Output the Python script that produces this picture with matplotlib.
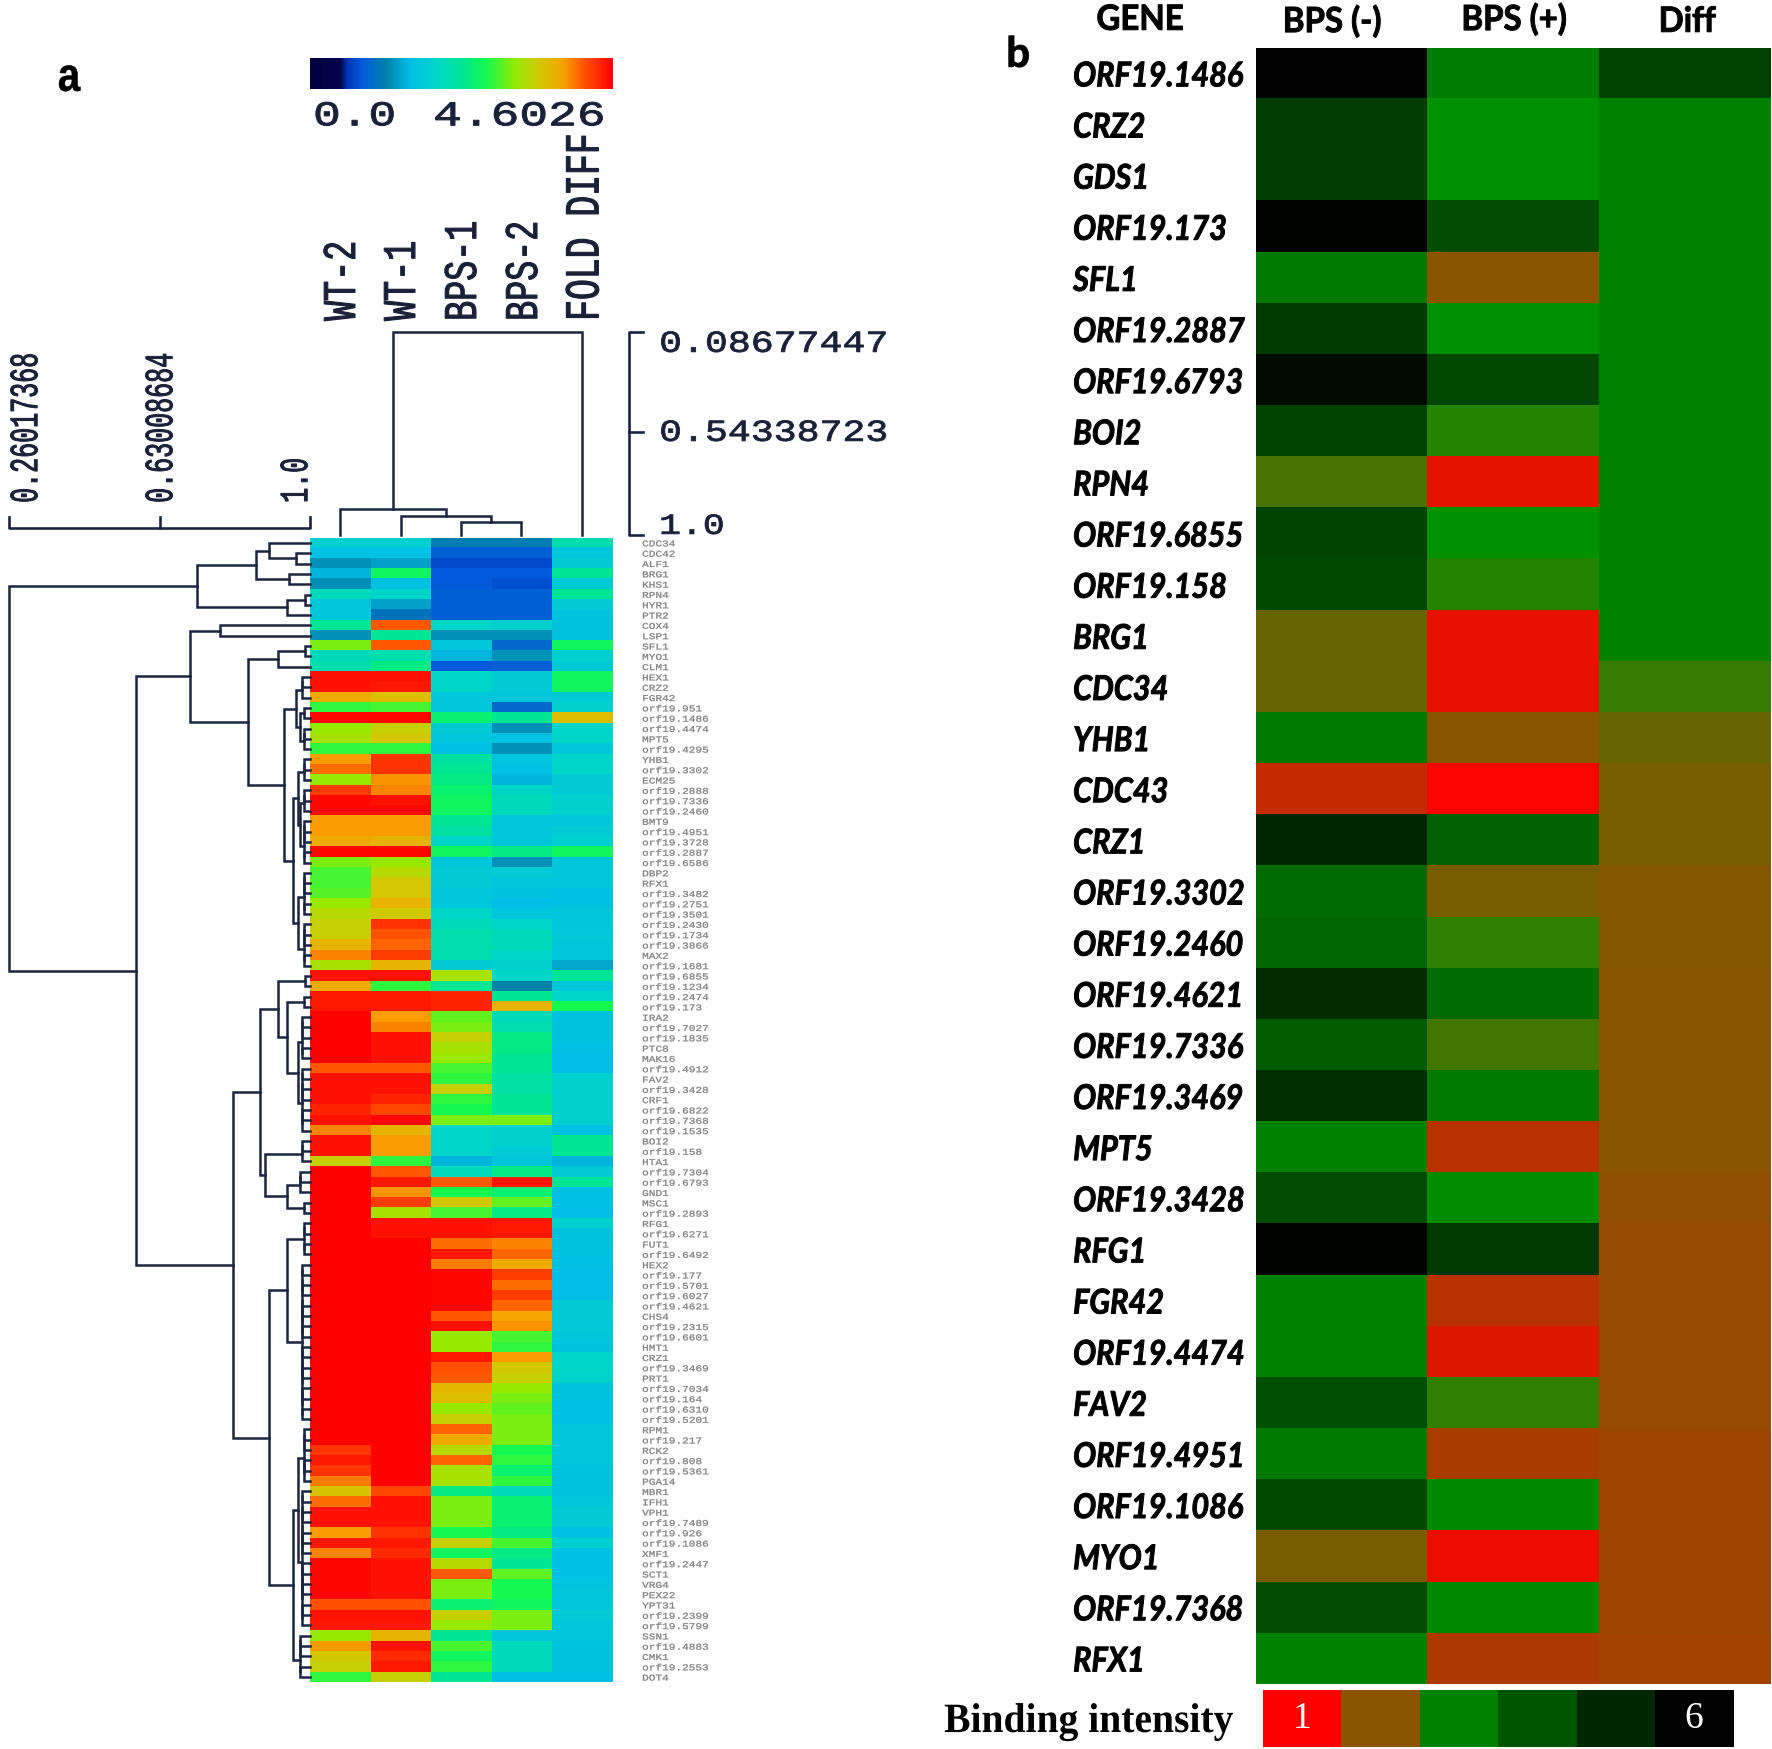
import numpy as np
import matplotlib
matplotlib.use('Agg')
import matplotlib.pyplot as plt
import matplotlib.patheffects as pe
from matplotlib.colors import LinearSegmentedColormap
from matplotlib.transforms import Affine2D

W, H = 1772, 1749

samples = ['WT-2', 'WT-1', 'BPS-1', 'BPS-2', 'FOLD DIFF']
row_genes = ['CDC34', 'CDC42', 'ALF1', 'BRG1', 'KHS1', 'RPN4', 'HYR1', 'PTR2', 'COX4', 'LSP1',
             'SFL1', 'MYO1', 'CLM1', 'HEX1', 'CRZ2', 'FGR42', 'orf19.951', 'orf19.1486', 'orf19.4474', 'MPT5',
             'orf19.4295', 'YHB1', 'orf19.3302', 'ECM25', 'orf19.2888', 'orf19.7336', 'orf19.2460', 'BMT9', 'orf19.4951', 'orf19.3728',
             'orf19.2887', 'orf19.6586', 'DBP2', 'RFX1', 'orf19.3482', 'orf19.2751', 'orf19.3501', 'orf19.2430', 'orf19.1734', 'orf19.3866',
             'MAX2', 'orf19.1681', 'orf19.6855', 'orf19.1234', 'orf19.2474', 'orf19.173', 'IRA2', 'orf19.7027', 'orf19.1835', 'PTC8',
             'MAK16', 'orf19.4912', 'FAV2', 'orf19.3428', 'CRF1', 'orf19.6822', 'orf19.7368', 'orf19.1535', 'BOI2', 'orf19.158',
             'HTA1', 'orf19.7304', 'orf19.6793', 'GND1', 'MSC1', 'orf19.2893', 'RFG1', 'orf19.6271', 'FUT1', 'orf19.6492',
             'HEX2', 'orf19.177', 'orf19.5701', 'orf19.6027', 'orf19.4621', 'CHS4', 'orf19.2315', 'orf19.6601', 'HMT1', 'CRZ1',
             'orf19.3469', 'PRT1', 'orf19.7034', 'orf19.164', 'orf19.6310', 'orf19.5201', 'RPM1', 'orf19.217', 'RCK2', 'orf19.808',
             'orf19.5361', 'PGA14', 'MBR1', 'IFH1', 'VPH1', 'orf19.7489', 'orf19.926', 'orf19.1086', 'XMF1', 'orf19.2447',
             'SCT1', 'VRG4', 'PEX22', 'YPT31', 'orf19.2399', 'orf19.5799', 'SSN1', 'orf19.4883', 'CMK1', 'orf19.2553',
             'DOT4']

wt2 = [.40, .34, .27, .32, .27, .44, .36, .36, .50, .27,
       .66, .44, .46, .98, .98, .82, .60, .99, .68, .70,
       .60, .84, .88, .68, .93, .99, .99, .84, .84, .82,
       .99, .66, .62, .62, .63, .68, .72, .74, .74, .80,
       .86, .70, .98, .82, .97, .97, 1, 1, 1, 1,
       1, .90, .98, .98, .98, .96, .98, .86, .98, .98,
       .74, 1, 1, 1, 1, 1, 1, 1, 1, 1,
       1, 1, 1, 1, 1, 1, 1, 1, 1, 1,
       1, 1, 1, 1, 1, 1, 1, 1, .94, .97,
       .94, .87, .77, .88, .98, .98, .84, .97, .86, .99,
       .99, .99, .99, .91, .98, .97, .68, .84, .76, .74, .60]
wt1 = [.40, .34, .29, .56, .34, .42, .29, .22, .90, .50,
       .90, .46, .52, .98, .97, .78, .62, .99, .74, .76,
       .60, .94, .94, .85, .86, .98, .99, .84, .84, .80,
       .99, .68, .72, .76, .76, .80, .75, .94, .91, .89,
       .93, .80, .98, .60, .97, .97, .84, .86, .98, .98,
       .98, .90, .98, .98, .96, .92, .99, .80, .84, .84,
       .60, .90, .97, .85, .93, .70, .98, .98, 1, 1,
       1, 1, 1, 1, 1, 1, 1, 1, 1, 1,
       1, 1, 1, 1, 1, 1, 1, 1, 1, 1,
       1, 1, .92, .98, .98, .98, .94, .97, .95, .98,
       .98, .98, .98, .91, .98, .97, .80, .98, .95, .97, .74]
bps1 = [.24, .18, .15, .17, .17, .18, .18, .18, .42, .27,
        .36, .32, .17, .42, .42, .36, .36, .54, .38, .36,
        .34, .48, .50, .52, .54, .56, .56, .50, .48, .42,
        .56, .36, .38, .38, .36, .36, .42, .44, .46, .46,
        .46, .38, .70, .50, .96, .96, .64, .66, .74, .70,
        .68, .62, .60, .74, .60, .58, .66, .42, .42, .42,
        .32, .44, .90, .58, .76, .62, .98, .98, .88, .97,
        .87, .99, .99, .99, .99, .90, .98, .68, .68, .97,
        .91, .90, .79, .78, .68, .74, .89, .82, .72, .89,
        .70, .70, .52, .66, .66, .66, .58, .74, .56, .72,
        .90, .66, .66, .54, .74, .68, .50, .62, .56, .60, .50]
bps2 = [.24, .18, .15, .17, .16, .18, .18, .18, .40, .27,
        .20, .27, .18, .38, .38, .36, .20, .50, .27, .34,
        .27, .35, .34, .32, .42, .44, .44, .36, .36, .36,
        .52, .27, .38, .36, .35, .33, .36, .42, .44, .44,
        .42, .40, .42, .25, .50, .80, .44, .46, .52, .52,
        .50, .50, .48, .48, .50, .50, .66, .40, .40, .38,
        .36, .52, .97, .54, .64, .52, .97, .97, .86, .89,
        .82, .93, .88, .93, .89, .83, .85, .62, .60, .84,
        .76, .74, .68, .66, .64, .66, .66, .66, .58, .60,
        .54, .60, .44, .54, .54, .54, .52, .62, .52, .50,
        .64, .58, .58, .56, .66, .66, .36, .44, .44, .44, .34]
fold_diff = [.46, .36, .38, .50, .38, .50, .38, .35, .35, .35,
             .56, .40, .38, .56, .56, .38, .40, .78, .42, .42,
             .36, .42, .42, .38, .38, .40, .40, .36, .38, .40,
             .56, .36, .36, .36, .34, .34, .36, .36, .37, .36,
             .36, .30, .50, .36, .42, .58, .35, .35, .35, .34,
             .33, .33, .40, .40, .40, .40, .40, .34, .50, .50,
             .32, .38, .50, .34, .34, .33, .40, .35, .35, .34,
             .34, .33, .33, .33, .38, .38, .37, .36, .35, .42,
             .42, .41, .35, .34, .34, .34, .36, .36, .36, .36,
             .35, .35, .35, .36, .38, .38, .34, .40, .34, .34,
             .34, .35, .36, .36, .38, .36, .36, .35, .35, .35, .34]

# panel b
binding_genes = ['ORF19.1486', 'CRZ2', 'GDS1', 'ORF19.173', 'SFL1', 'ORF19.2887', 'ORF19.6793', 'BOI2',
                 'RPN4', 'ORF19.6855', 'ORF19.158', 'BRG1', 'CDC34', 'YHB1', 'CDC43', 'CRZ1',
                 'ORF19.3302', 'ORF19.2460', 'ORF19.4621', 'ORF19.7336', 'ORF19.3469', 'MPT5', 'ORF19.3428', 'RFG1',
                 'FGR42', 'ORF19.4474', 'FAV2', 'ORF19.4951', 'ORF19.1086', 'MYO1', 'ORF19.7368', 'RFX1']
bps_minus = [6.0, 4.5, 4.5, 5.9, 3.2, 4.6, 5.7, 4.4, 2.35, 4.4, 4.3, 2.2, 2.2, 3.2, 1.5, 5.0,
             3.5, 3.6, 4.9, 3.8, 4.8, 3.0, 4.2, 5.9, 3.0, 3.0, 4.1, 3.2, 4.3, 2.1, 4.2, 3.0]
bps_plus = [3.1, 2.8, 2.8, 4.2, 2.0, 2.8, 4.3, 2.55, 1.25, 2.8, 2.55, 1.2, 1.2, 2.0, 1.05, 3.7,
            2.1, 2.5, 3.5, 2.4, 3.2, 1.6, 2.85, 4.6, 1.6, 1.3, 2.5, 1.75, 2.9, 1.15, 2.9, 1.7]
diff = [4.4, 3.0, 3.0, 3.0, 3.0, 3.0, 3.0, 3.0, 3.0, 3.0, 3.0, 3.0, 2.45, 2.2, 2.1, 2.1,
        2.05, 2.05, 2.0, 2.0, 2.0, 2.0, 1.95, 1.9, 1.9, 1.9, 1.9, 1.85, 1.85, 1.85, 1.85, 1.8]
intensity_levels = [1, 2, 3, 4, 5, 6]

heat_cmap = LinearSegmentedColormap.from_list('heat', [
    (0, '#00003c'), (.10, '#050550'), (.12, '#0032b4'), (.17, '#005adc'), (.25, '#0082aa'),
    (.33, '#00bee6'), (.42, '#00d7c8'), (.50, '#00e696'), (.58, '#14fa50'), (.68, '#96eb00'),
    (.75, '#cdcd00'), (.84, '#faa000'), (.90, '#ff5a00'), (1, '#ff0000')])
bind_cmap = LinearSegmentedColormap.from_list('binding', [
    (0, '#ff0000'), (.2, '#8a5400'), (.35, '#009600'), (.4, '#008200'), (.6, '#005500'),
    (.8, '#002800'), (1, '#000000')])


class StretchX(pe.AbstractPathEffect):
    # the source image was squeezed, so its text is wider than any installed font
    def __init__(self, sx, cx, stroke=0.0):
        super().__init__()
        self.sx = sx
        self.cx = cx
        self.stroke = stroke

    def draw_path(self, renderer, gc, tpath, affine, rgbFace=None):
        t = Affine2D().translate(-self.cx, 0).scale(self.sx, 1).translate(self.cx, 0)
        gc0 = renderer.new_gc()
        gc0.copy_properties(gc)
        gc0.set_linewidth(self.stroke)
        gc0.set_foreground(rgbFace)
        renderer.draw_path(gc0, tpath, affine + t, rgbFace)
        gc0.restore()


def pixel_axes(x0, y0, x1, y1):
    ax = fig.add_axes([x0 / W, 1 - y1 / H, (x1 - x0) / W, (y1 - y0) / H])
    ax.set_axis_off()
    return ax


def wide(x, y, s, sx=1.0, stroke=0.0, **kw):
    t = page.text(x, y, s, **kw)
    t.set_path_effects([StretchX(sx, x, stroke)])
    return t


def comb(first, last, d):
    if first == last:
        return first
    mid = (first + last) // 2
    return (d, comb(first, mid, d), comb(mid + 1, last, d))


# (height, upper child, lower child), leaves are row numbers
row_tree = (0.26,
            (0.721,
             (0.867, (0.898, 0, (0.9656, 1, 2)), (0.948, 3, 4)),
             (0.943, (0.9877, 5, 6), 7)),
            (0.572,
             (0.706,
              (0.779, 8, 9),
              (0.848,
               (0.921, (0.9877, 10, 11), 12),
               (0.936,
                (0.9656, comb(13, 15, .98), (0.975, comb(16, 17, .985), comb(18, 20, .985))),
                (0.958,
                 (0.97, comb(21, 23, .985), (0.975, comb(24, 26, .985), comb(27, 31, .985))),
                 (0.97, comb(32, 36, .985), comb(37, 41, .985)))))),
             (0.811,
              (0.876,
               (0.921, comb(42, 43, .9877),
                (0.943, comb(44, 45, .985), (0.97, comb(46, 50, .98), comb(51, 57, .98)))),
               (0.889, comb(58, 60, .98), (0.943, comb(61, 63, .975), comb(64, 65, .985)))),
              (0.898,
               (0.943, comb(66, 69, .985), comb(70, 85, .98)),
               (0.958,
                (0.97, comb(86, 91, .985), comb(92, 105, .98)),
                comb(106, 110, .975))))))
col_tree = (0.0868, (0.883, 0, (0.9145, 1, (0.9415, 2, 3))), 4)
LINE = '#1c2440'
TEXT = '#1a2038'


def draw_row(ax, node):
    if isinstance(node, int):
        return 1.0, node
    d, a, b = node
    da, ya = draw_row(ax, a)
    db, yb = draw_row(ax, b)
    ax.plot([da, d, d, db], [ya, ya, yb, yb], color=LINE, lw=1.8, solid_joinstyle='miter')
    return d, (ya + yb) / 2


def draw_col(ax, node):
    if isinstance(node, int):
        return node, 1.0
    d, a, b = node
    xa, da = draw_col(ax, a)
    xb, db = draw_col(ax, b)
    ax.plot([xa, xa, xb, xb], [da, d, d, db], color=LINE, lw=1.8, solid_joinstyle='miter')
    return (xa + xb) / 2, d


fig = plt.figure(figsize=((W + 0.2) / 100, (H + 0.2) / 100), dpi=100, facecolor='white')
page = pixel_axes(0, 0, W, H)
page.set_xlim(0, W)
page.set_ylim(H, 0)
page.set_zorder(5)

# panel a: heatmap, colour bar, dendrograms
ax_heat = pixel_axes(310, 538, 612, 1682)
matrix = np.array([wt2, wt1, bps1, bps2, fold_diff]).T
ax_heat.imshow(matrix, cmap=heat_cmap, vmin=0, vmax=1, aspect='auto', interpolation='nearest')

ax_bar = pixel_axes(310, 58, 612, 89)
ax_bar.imshow(np.linspace(0, 1, 256)[None, :], cmap=heat_cmap, aspect='auto')

ax_rows = pixel_axes(9, 538, 310, 1682)
ax_rows.set_xlim(0.26, 1.0)
ax_rows.set_ylim(len(row_genes) - 0.5, -0.5)
draw_row(ax_rows, row_tree)

ax_cols = pixel_axes(310, 332, 612, 538)
ax_cols.set_xlim(-0.5, 4.5)
ax_cols.set_ylim(1.0137, 0.0868)
draw_col(ax_cols, col_tree)
for ax in (ax_rows, ax_cols):
    for ln in ax.lines:
        ln.set_clip_on(False)

# scale brackets
page.plot([9, 9, 310, 310], [517, 528, 528, 517], color=LINE, lw=1.9)
page.plot([160, 160], [517, 528], color=LINE, lw=1.9)
page.plot([643, 629, 629, 643], [332, 332, 535, 535], color=LINE, lw=1.9)
page.plot([629, 643], [432, 432], color=LINE, lw=1.9)

MONO = 'Liberation Mono'
wide(313, 116, '0.0', 1.33, 0.7, family=MONO, fontsize=25, ha='left', va='center', color=TEXT)
wide(433, 116, '4.6026', 1.38, 0.7, family=MONO, fontsize=25, ha='left', va='center', color=TEXT)
wide(659, 344, '0.08677447', 1.25, 0.6, family=MONO, fontsize=22, ha='left', va='center', color=TEXT)
wide(659, 433, '0.54338723', 1.25, 0.6, family=MONO, fontsize=22, ha='left', va='center', color=TEXT)
wide(659, 526, '1.0', 1.25, 0.6, family=MONO, fontsize=21, ha='left', va='center', color=TEXT)
for x, s in zip([26, 161, 296], ['0.26017368', '0.63008684', '1.0']):
    wide(x, 503, s, 1.6, 0.7, family=MONO, fontsize=18, rotation=90, ha='center', va='bottom', color=TEXT)
for x, s, fs in zip([343, 403, 464, 525, 585], samples, [24, 24, 24, 24, 25]):
    wide(x, 321, s, 1.4, 0.8, family=MONO, fontsize=fs, rotation=90, ha='center', va='bottom', color=TEXT)
for i, g in enumerate(row_genes):
    wide(642, 544 + 10.31 * i, g, 1.25, 0.2, family=MONO, fontsize=6.4, ha='left', va='center', color='#808080')
wide(69, 79, 'a', 0.85, 0.4, family='Liberation Sans', fontweight='bold', fontsize=34, ha='center', va='center', color='black')

# panel b
ax_bind = pixel_axes(1256, 48, 1770, 1684)
bind = np.array([bps_minus, bps_plus, diff]).T
ax_bind.imshow(bind, cmap=bind_cmap, vmin=1, vmax=6, aspect='auto', interpolation='nearest')
LATO = 'Lato'
row_h = (1684 - 48) / len(binding_genes)
for i, g in enumerate(binding_genes):
    wide(1073, 48 + row_h * (i + 0.5) + 3, g, 0.9, 0.7, family=LATO, fontweight='bold', style='italic',
         fontsize=24.5, ha='left', va='center', color='black')
for x, y, s in zip([1140, 1332, 1514, 1687], [20, 22, 20, 22], ['GENE', 'BPS (-)', 'BPS (+)', 'Diff']):
    wide(x, y, s, 0.95, 0.7, family=LATO, fontweight='bold', fontsize=25, ha='center', va='center', color='black')
wide(1018, 55, 'b', 1.0, 0.7, family=LATO, fontweight='bold', fontsize=30, ha='center', va='center', color='black')

ax_key = pixel_axes(1263, 1690, 1733, 1747)
ax_key.imshow(np.array(intensity_levels)[None, :], cmap=bind_cmap, vmin=1, vmax=6, aspect='auto',
              interpolation='nearest')
ax_key.text(0, 0, str(intensity_levels[0]), family='Liberation Serif', fontsize=27, color='white',
            ha='center', va='center')
ax_key.text(5, 0, str(intensity_levels[-1]), family='Liberation Serif', fontsize=27, color='white',
            ha='center', va='center')
wide(944, 1722, 'Binding intensity', 0.95, 0.0, family='Liberation Serif', fontweight='bold', fontsize=30,
     ha='left', va='center', color='black')

fig.savefig('out.png', dpi=100, facecolor='white')
